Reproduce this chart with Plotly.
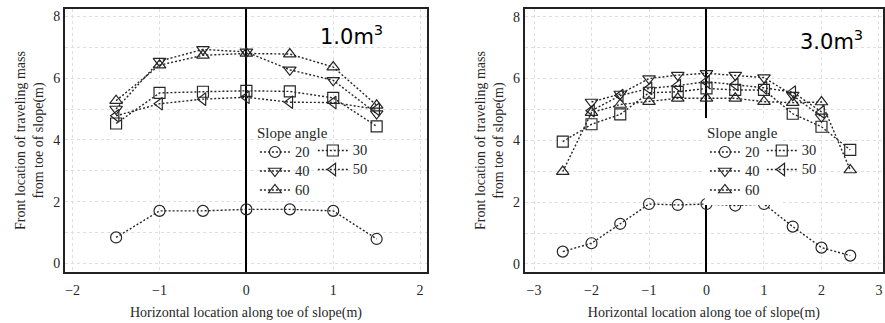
import plotly.graph_objects as go

# ---------------- data ----------------
angles = ["20", "30", "40", "50", "60"]
symbols = ["circle-open", "square-open", "triangle-down-open", "triangle-left-open", "triangle-up-open"]

# 1.0 m3 (left)
x_left = [-1.5, -1, -0.5, 0, 0.5, 1, 1.5]
left_20 = [0.84, 1.70, 1.70, 1.75, 1.75, 1.70, 0.79]
left_30 = [4.53, 5.52, 5.56, 5.59, 5.57, 5.36, 4.44]
left_40 = [5.00, 6.55, 6.93, 6.85, 6.27, 5.93, 4.85]
left_50 = [4.78, 5.17, 5.32, 5.38, 5.22, 5.21, 4.99]
left_60 = [5.27, 6.42, 6.74, 6.80, 6.78, 6.36, 5.12]

# 3.0 m3 (right)
x_right = [-2.5, -2, -1.5, -1, -0.5, 0, 0.5, 1, 1.5, 2, 2.5]
x_right_inner = [-2, -1.5, -1, -0.5, 0, 0.5, 1, 1.5, 2]
right_20 = [0.40, 0.67, 1.30, 1.94, 1.91, 1.94, 1.89, 1.94, 1.21, 0.53, 0.27]
right_30 = [3.96, 4.52, 4.84, 5.54, 5.57, 5.68, 5.63, 5.63, 4.86, 4.44, 3.69]
right_40 = [5.24, 5.50, 6.00, 6.11, 6.17, 6.11, 6.03, 5.46, 4.76]
right_50 = [4.96, 5.45, 5.68, 5.77, 5.90, 5.81, 5.70, 5.56, 4.92]
right_60 = [2.99, 4.90, 5.16, 5.25, 5.36, 5.36, 5.36, 5.25, 5.22, 5.24, 3.04]

x_ticks_left = [-2, -1, 0, 1, 2]
x_ticks_right = [-3, -2, -1, 0, 1, 2, 3]
y_ticks = [0, 2, 4, 6, 8]

labels = ["1.0m<sup>3</sup>", "3.0m<sup>3</sup>"]
x_title = "Horizontal location along toe of slope(m)"
y_title = "Front location of traveling mass<br>from toe of slope(m)"
legend_title = "Slope angle"

# ---------------- figure ----------------
SERIF = "Liberation Serif, Times New Roman, serif"
INK = "#262626"
W, H = 885, 323
fig = go.Figure()

left_series = [(x_left, left_20), (x_left, left_30), (x_left, left_40), (x_left, left_50), (x_left, left_60)]
right_series = [(x_right, right_20), (x_right, right_30), (x_right_inner, right_40),
                (x_right_inner, right_50), (x_right, right_60)]

# legend columns: column 0 -> 20, 40, 60 (with title), column 1 -> 30, 50
col_of = {"20": 0, "30": 1, "40": 0, "50": 1, "60": 0}
legend_keys = [["legend", "legend2"], ["legend3", "legend4"]]
col_marker_x = [[272, 330], [723, 780]]   # marker centres (px) per panel / column
first_row_y = 151                          # centre of first legend row (px)

for panel, series in enumerate([left_series, right_series]):
    xa = "x" if panel == 0 else "x2"
    ya = "y" if panel == 0 else "y2"
    for name, sym, (xs, ys) in zip(angles, symbols, series):
        fig.add_trace(go.Scatter(
            x=xs, y=ys, name=f"<span style='font-size:14.5px'>{name}</span>",
            xaxis=xa, yaxis=ya,
            mode="lines+markers",
            line=dict(color=INK, width=1.4, dash="2px,2px"),
            marker=dict(symbol=sym, size=11, color=INK, line=dict(width=1.2, color=INK)),
            legend=legend_keys[panel][col_of[name]],
        ))

leg_font = dict(family=SERIF, size=12.3, color=INK)
legend_layout = {}
for panel in range(2):
    for col in range(2):
        key = legend_keys[panel][col]
        lx = col_marker_x[panel][col] - 16.5
        top = first_row_y - (33 if col == 0 else 15)
        ld = dict(x=lx / W, y=1 - top / H, xanchor="left", yanchor="top",
                  font=leg_font, borderwidth=0, tracegroupgap=0,
                  bgcolor="white" if (panel == 1 and col == 0) else "rgba(0,0,0,0)")
        if col == 0:
            ld["title"] = dict(text=legend_title, font=dict(family=SERIF, size=15, color=INK))
        legend_layout[key] = ld

ydom = [1 - 272 / H, 1 - 9 / H]
grid_col = "#dedee8"
axis_common = dict(
    showline=True, mirror=True, linecolor="#222", linewidth=1.8,
    ticks="", showgrid=True, gridcolor=grid_col, griddash="dot", gridwidth=1,
    tickfont=dict(family=SERIF, size=14, color=INK),
    title_font=dict(family=SERIF, size=14, color=INK),
)

fig.update_layout(
    width=W, height=H,
    margin=dict(l=0, r=0, t=0, b=0),
    paper_bgcolor="white", plot_bgcolor="white",
    font=dict(family=SERIF, size=14, color=INK),
    showlegend=True,
    xaxis=dict(domain=[65 / W, 428 / W], range=[-2.09, 2.08], tickvals=x_ticks_left,
               zeroline=True, zerolinecolor="black", zerolinewidth=2, ticklabelstandoff=4,
               title=dict(text=x_title, standoff=10), anchor="y", **axis_common),
    yaxis=dict(domain=ydom, range=[-0.28, 8.24], tickvals=y_ticks, zeroline=False,
               minor=dict(dtick=1, showgrid=True, gridcolor=grid_col, griddash="dot"),
               title=dict(text=y_title, standoff=6), anchor="x", **axis_common),
    xaxis2=dict(domain=[526 / W, 1.0], range=[-3.16, 3.07], tickvals=x_ticks_right,
                zeroline=True, zerolinecolor="black", zerolinewidth=2, ticklabelstandoff=4,
                title=dict(text=x_title, standoff=10), anchor="y2", **axis_common),
    yaxis2=dict(domain=ydom, range=[-0.26, 8.25], tickvals=y_ticks, zeroline=False,
                minor=dict(dtick=1, showgrid=True, gridcolor=grid_col, griddash="dot"),
                title=dict(text=y_title, standoff=6), anchor="x2", **axis_common),
    **legend_layout,
)

fig.add_annotation(text=labels[0], xref="paper", yref="paper", x=352 / W, y=1 - 35 / H,
                   xanchor="center", yanchor="middle", showarrow=False,
                   font=dict(family="DejaVu Sans", size=21, color="black"))
fig.add_annotation(text=labels[1], xref="paper", yref="paper", x=833 / W, y=1 - 40 / H,
                   xanchor="center", yanchor="middle", showarrow=False,
                   font=dict(family="DejaVu Sans", size=21, color="black"))

fig.write_html("out.html")
